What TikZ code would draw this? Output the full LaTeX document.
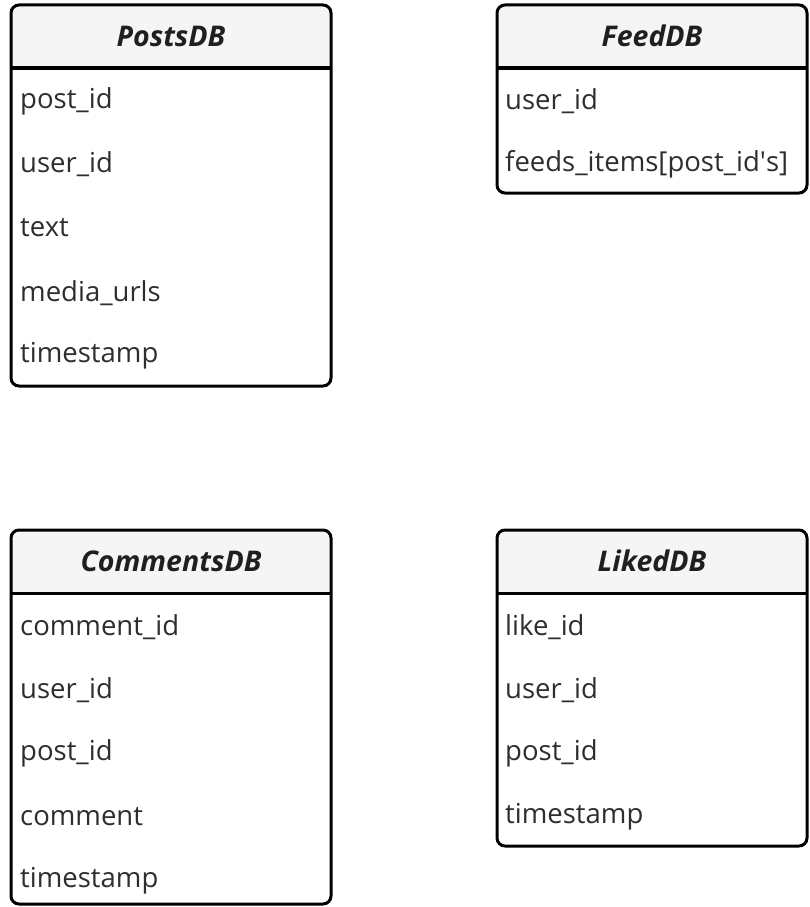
\documentclass[tikz,border=0pt]{standalone}
\usepackage{fontspec}
\setmainfont{Open Sans}
\begin{document}
\begin{tikzpicture}[x=1pt,y=-1pt,
  tbl/.style={draw=black, line width=3pt, rounded corners=8pt, inner sep=0pt},
  hdr/.style={fill=black!4},
  title/.style={font=\fontsize{28.5}{32}\selectfont\bfseries\itshape, text=black!88},
  row/.style={anchor=west, inner sep=0pt, font=\fontsize{27.5}{31}\selectfont, text=black!82}]
\useasboundingbox (0,0) rectangle (810,907);
% ---------- PostsDB
\begin{scope}
\clip[rounded corners=8pt] (11,5) rectangle (331,386);
\fill[hdr] (11,5) rectangle (331,68);
\end{scope}
\draw[tbl] (11,5) rectangle (331,386);
\draw[line width=3pt] (11,68) -- (331,68);
\node[title] (postsT) at (171,36) {PostsDB};
\node[row] (p1) at (20,101) {post\_id};
\node[row] (p2) at (20,164) {user\_id};
\node[row] (p3) at (20,228) {text};
\node[row] (p4) at (20,293) {media\_urls};
\node[row] (p5) at (20,356) {timestamp};
% ---------- FeedDB
\begin{scope}
\clip[rounded corners=8pt] (497,5) rectangle (807,193);
\fill[hdr] (497,5) rectangle (807,68);
\end{scope}
\draw[tbl] (497,5) rectangle (807,193);
\draw[line width=3pt] (497,68) -- (807,68);
\node[title] (feedT) at (652,36) {FeedDB};
\node[row] (f1) at (505,101) {user\_id};
\node[row] (f2) at (505,164) {feeds\_items[post\_id\textquotesingle s]};
% ---------- CommentsDB
\begin{scope}
\clip[rounded corners=8pt] (11,530) rectangle (331,904);
\fill[hdr] (11,530) rectangle (331,593);
\end{scope}
\draw[tbl] (11,530) rectangle (331,904);
\draw[line width=3pt] (11,593) -- (331,593);
\node[title] (commT) at (171,561) {CommentsDB};
\node[row] (c1) at (20,627) {comment\_id};
\node[row] (c2) at (20,690) {user\_id};
\node[row] (c3) at (20,753) {post\_id};
\node[row] (c4) at (20,817) {comment};
\node[row] (c5) at (20,881) {timestamp};
% ---------- LikedDB
\begin{scope}
\clip[rounded corners=8pt] (497,530) rectangle (807,846);
\fill[hdr] (497,530) rectangle (807,593);
\end{scope}
\draw[tbl] (497,530) rectangle (807,846);
\draw[line width=3pt] (497,593) -- (807,593);
\node[title] (likeT) at (652,561) {LikedDB};
\node[row] (l1) at (505,627) {like\_id};
\node[row] (l2) at (505,690) {user\_id};
\node[row] (l3) at (505,753) {post\_id};
\node[row] (l4) at (505,817) {timestamp};
\end{tikzpicture}
\end{document}
